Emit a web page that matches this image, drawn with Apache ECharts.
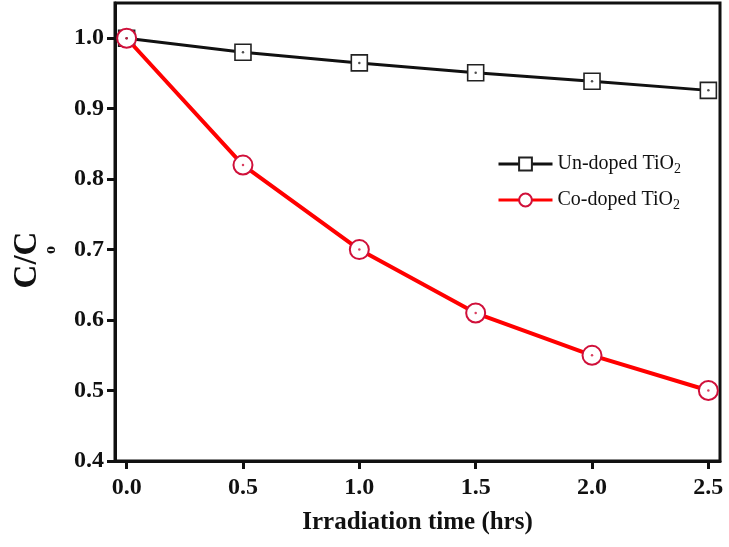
<!DOCTYPE html>
<html>
<head>
<meta charset="utf-8">
<script src="https://cdn.jsdelivr.net/npm/echarts@6/dist/echarts.min.js"></script>
<style>
  html, body { margin: 0; padding: 0; background: #fff; }
  #chart { width: 729px; height: 547px; }
</style>
</head>
<body>
<div id="chart"></div>
<script>
// irradiation time (hrs)
var times = [0, 0.5, 1.0, 1.5, 2.0, 2.5];
// C/Co values
var undoped = [1.0, 0.98, 0.965, 0.951, 0.939, 0.926];
var codoped = [1.0, 0.82, 0.70, 0.61, 0.55, 0.50];
var xTicks = [0, 0.5, 1.0, 1.5, 2.0, 2.5];
var yTicks = [0.4, 0.5, 0.6, 0.7, 0.8, 0.9, 1.0];

function pairs(ys) {
  return times.map(function (t, i) { return [t, ys[i]]; });
}

var chart = echarts.init(document.getElementById('chart'));
var serif = '"Liberation Serif", "DejaVu Serif", serif';

var option = {
  animation: false,
  textStyle: { fontFamily: serif },
  grid: {
    left: 115, right: 9, top: 3, bottom: 86,
    show: true, borderColor: '#111', borderWidth: 3
  },
  // y axis title C/Co, placed by hand (the "o" sits under the second C)
  graphic: [
    {
      type: 'text',
      x: 27, y: 260,
      rotation: Math.PI / 2,
      style: {
        text: 'C/C', align: 'center', verticalAlign: 'middle',
        font: 'bold 33px ' + serif, fill: '#111'
      }
    },
    {
      type: 'text',
      x: 51, y: 250,
      rotation: Math.PI / 2,
      style: {
        text: 'o', align: 'center', verticalAlign: 'middle',
        font: 'bold 16px ' + serif, fill: '#111'
      }
    }
  ],
  legend: {
    orient: 'vertical',
    left: 497, top: 154, padding: 0,
    itemWidth: 54, itemHeight: 16, itemGap: 14,
    data: ['Un-doped TiO2', 'Co-doped TiO2'],
    lineStyle: { width: 3 },
    formatter: function (name) {
      return '{t|' + name.slice(0, -1) + '}{s|2}';
    },
    textStyle: {
      rich: {
        t: { fontFamily: serif, fontSize: 20, color: '#111' },
        s: { fontFamily: serif, fontSize: 14, color: '#111', padding: [10, 0, 0, 0] }
      }
    }
  },
  xAxis: {
    type: 'value',
    min: -0.05, max: 2.55,
    name: 'Irradiation time (hrs)',
    nameLocation: 'middle', nameGap: 49,
    nameTextStyle: { fontFamily: serif, fontSize: 25, fontWeight: 'bold', color: '#111' },
    splitLine: { show: false },
    axisLine: { show: true, onZero: false, lineStyle: { color: '#111', width: 3 } },
    axisTick: { show: true, customValues: xTicks, length: 8, lineStyle: { color: '#111', width: 3 } },
    axisLabel: {
      customValues: xTicks, margin: 15,
      fontFamily: serif, fontSize: 24, fontWeight: 'bold', color: '#111',
      formatter: function (v) { return v.toFixed(1); }
    }
  },
  yAxis: {
    type: 'value',
    min: 0.4, max: 1.05,
    splitLine: { show: false },
    axisLine: { show: true, onZero: false, lineStyle: { color: '#111', width: 3 } },
    axisTick: { show: true, customValues: yTicks, length: 8, lineStyle: { color: '#111', width: 3 } },
    axisLabel: {
      customValues: yTicks, margin: 11,
      fontFamily: serif, fontSize: 24, fontWeight: 'bold', color: '#111',
      formatter: function (v) { return v.toFixed(1); }
    }
  },
  series: [
    {
      name: 'Un-doped TiO2', type: 'line', data: pairs(undoped),
      symbol: 'rect', symbolSize: 16,
      lineStyle: { color: '#111', width: 3 },
      itemStyle: { color: '#fff', borderColor: '#222', borderWidth: 1.6 },
      z: 2
    },
    {
      name: 'Co-doped TiO2', type: 'line', data: pairs(codoped),
      symbol: 'circle', symbolSize: 19,
      lineStyle: { color: '#ff0000', width: 4 },
      itemStyle: { color: '#fff', borderColor: '#d0103a', borderWidth: 2 },
      z: 3
    },
    {
      name: 'dot1', type: 'scatter', data: pairs(undoped),
      symbol: 'circle', symbolSize: 2.5, itemStyle: { color: '#222' }, z: 4, silent: true
    },
    {
      name: 'dot2', type: 'scatter', data: pairs(codoped),
      symbol: 'circle', symbolSize: 2.5, itemStyle: { color: '#d0103a' }, z: 5, silent: true
    }
  ]
};

chart.setOption(option);
</script>
</body>
</html>
